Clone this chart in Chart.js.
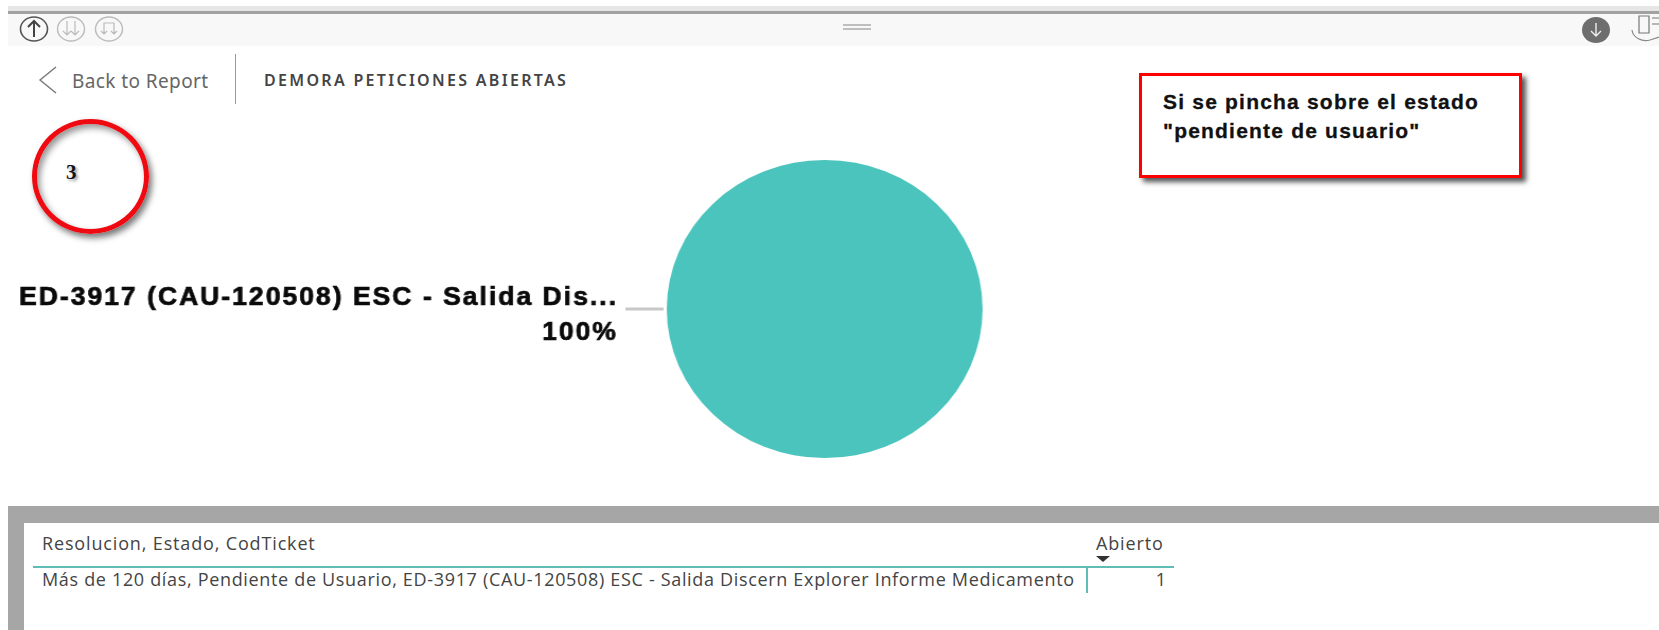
<!DOCTYPE html>
<html lang="es">
<head>
<meta charset="utf-8">
<title>Demora peticiones abiertas</title>
<script src="https://cdn.jsdelivr.net/npm/chart.js@4/dist/chart.umd.min.js"></script>
<style>
  html, body { margin: 0; padding: 0; background: #fff; }
  body { position: relative; width: 1659px; height: 630px; overflow: hidden; }
  .box, .txt, svg { position: absolute; }
  .txt { white-space: nowrap; line-height: 1; }
  .cell { font: 18px "Open Sans", sans-serif; color: #444; }
  #pieWrap { position: absolute; left: 0; top: 110px; width: 1000px; height: 380px; transform: scaleX(1.06); transform-origin: 0 0; }
</style>
</head>
<body>
  <!-- top window strip and toolbar -->
  <div class="box" style="left:8px;top:6px;width:1651px;height:5px;background:#e6e6e6"></div>
  <div class="box" style="left:8px;top:11px;width:1651px;height:3px;background:#a2a2a2"></div>
  <div class="box" style="left:8px;top:14px;width:1651px;height:32px;background:#f8f8f8"></div>
  <svg style="left:0;top:0" width="1659" height="50" fill="none">
    <ellipse cx="34" cy="29" rx="13.5" ry="12" stroke="#555" stroke-width="1.6"/>
    <path d="M34 37V22M28 27l6-6 6 6" stroke="#444" stroke-width="2"/>
    <ellipse cx="71" cy="29" rx="13.5" ry="12" stroke="#bbb" stroke-width="1.4"/>
    <path d="M67 21v14M75 21v14M63 31l4 4 4-4M71 31l4 4 4-4" stroke="#bbb" stroke-width="1.2"/>
    <ellipse cx="109" cy="29" rx="13.5" ry="12" stroke="#bbb" stroke-width="1.4"/>
    <path d="M104 33V23h10v10M101 31l3 3 3-3M111 31l3 3 3-3" stroke="#bbb" stroke-width="1.2"/>
    <path d="M843 25h28M843 29h28" stroke="#aaa" stroke-width="1.5"/>
    <ellipse cx="1596" cy="30" rx="14" ry="13" fill="#6e6e6e"/>
    <path d="M1596 23v13M1591 31l5 5 5-5" stroke="#eee" stroke-width="1.4"/>
    <path d="M1639 16h10v17h-10zM1652 18h7M1652 24h7" stroke="#777" stroke-width="1.2"/>
    <path d="M1632 30c1 8 10 12 18 10l9-3" stroke="#888" stroke-width="1.2"/>
  </svg>

  <!-- report header -->
  <svg style="left:0;top:50px" width="70" height="50" fill="none">
    <path d="M56 17L40 30l16 13" stroke="#777" stroke-width="1.4"/>
  </svg>
  <div class="txt" style="left:72px;top:68px;font:19px 'Noto Sans',sans-serif;letter-spacing:.4px;color:#666">Back to Report</div>
  <div class="box" style="left:235px;top:54px;width:1px;height:50px;background:#999"></div>
  <div class="txt" style="left:264px;top:69px;font:600 16px 'Noto Sans',sans-serif;letter-spacing:2.3px;color:#444">DEMORA PETICIONES ABIERTAS</div>

  <!-- hand drawn annotations -->
  <div class="box" style="left:32px;top:119px;width:107px;height:105px;border:5px solid #ee0a10;border-radius:50%;box-shadow:3px 4px 6px #777, inset 3px 4px 6px #999"></div>
  <div class="txt" style="left:66px;top:160px;font:bold 21px 'Liberation Serif',serif;color:#111;text-shadow:2px 2px 3px #999">3</div>
  <div class="box" style="left:1139px;top:73px;width:377px;height:99px;border:3.5px solid #f00;background:#fff;box-shadow:4px 4px 5px #555"></div>
  <div class="txt" style="left:1163px;top:90px;font:bold 21px 'Liberation Sans',sans-serif;letter-spacing:1.2px;color:#111;-webkit-text-stroke:.3px #111">Si se pincha sobre el estado</div>
  <div class="txt" style="left:1163px;top:119px;font:bold 21px 'Liberation Sans',sans-serif;letter-spacing:1.2px;color:#111;-webkit-text-stroke:.3px #111">"pendiente de usuario"</div>

  <div id="pieWrap"><canvas id="demoraChart" width="1000" height="380"></canvas></div>

  <!-- detail table -->
  <div class="box" style="left:8px;top:506px;width:1651px;height:17px;background:#a6a6a6"></div>
  <div class="box" style="left:8px;top:523px;width:16px;height:107px;background:#a6a6a6"></div>
  <div class="box" style="left:33px;top:566px;width:1141px;height:2px;background:#5fbdb6"></div>
  <div class="box" style="left:1086px;top:567px;width:2px;height:26px;background:#5fbdb6"></div>
  <svg style="left:1095px;top:555px" width="18" height="8"><path d="M1 1h14l-7 6z" fill="#333"/></svg>
  <div id="tableText"></div>

<script>
const categories = ['ED-3917 (CAU-120508) ESC - Salida Dis...'];
const values = [100];
const sliceColors = ['#4ac4bc'];

const tableHeaders = ['Resolucion, Estado, CodTicket', 'Abierto'];
const tableRowLabels = ['Más de 120 días, Pendiente de Usuario, ED-3917 (CAU-120508) ESC - Salida Discern Explorer Informe Medicamento'];
const tableRowValues = [1];

// table text, the numbers stay right aligned under the column header
const tableText = document.getElementById('tableText');
function addCell(text, css) {
  const el = document.createElement('div');
  el.className = 'txt cell';
  el.style.cssText = css;
  el.textContent = text;
  tableText.appendChild(el);
}
addCell(tableHeaders[0], 'left:42px;top:531px;letter-spacing:.85px');
addCell(tableHeaders[1], 'left:1096px;top:531px;letter-spacing:.85px');
addCell(tableRowLabels[0], 'left:42px;top:567px;letter-spacing:.67px');
addCell(tableRowValues[0], 'right:493px;top:567px');

// leader line and the two label lines to the left of the slice
const sliceLabels = {
  id: 'sliceLabels',
  afterDatasetsDraw(chart) {
    const ctx = chart.ctx;
    const arc = chart.getDatasetMeta(0).data[0];
    const edge = arc.x - arc.outerRadius;
    const total = values.reduce((a, b) => a + b, 0);
    const lines = [
      [categories[0], arc.y - 11],
      [Math.round(values[0] / total * 100) + '%', arc.y + 24]
    ];

    ctx.save();
    ctx.strokeStyle = '#c8c8c8';
    ctx.lineWidth = 3;
    ctx.beginPath();
    ctx.moveTo(edge - 39, arc.y);
    ctx.lineTo(edge - 3, arc.y);
    ctx.stroke();

    ctx.fillStyle = '#0a0a0a';
    ctx.strokeStyle = '#0a0a0a';
    ctx.lineWidth = 0.7;
    ctx.font = 'bold 25px "Liberation Sans", sans-serif';
    ctx.letterSpacing = '1.9px';
    ctx.textAlign = 'right';
    ctx.textBaseline = 'middle';
    lines.forEach(([text, y]) => {
      ctx.fillText(text, edge - 46, y);
      ctx.strokeText(text, edge - 46, y);
    });
    ctx.restore();
  }
};

new Chart(document.getElementById('demoraChart'), {
  type: 'pie',
  data: {
    labels: categories,
    datasets: [{ data: values, backgroundColor: sliceColors, borderWidth: 0 }]
  },
  options: {
    responsive: false,
    animation: false,
    layout: { padding: { left: 556, right: 0, top: 50, bottom: 32 } },
    plugins: { legend: { display: false }, tooltip: { enabled: false } }
  },
  plugins: [sliceLabels]
});
</script>
</body>
</html>
